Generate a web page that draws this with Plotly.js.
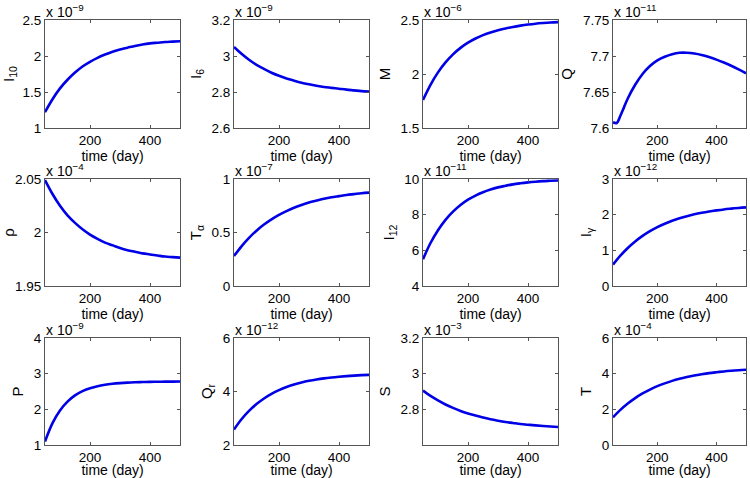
<!DOCTYPE html>
<html>
<head>
<meta charset="utf-8">
<script src="https://cdn.plot.ly/plotly-3.0.1.min.js"></script>
<style>html,body{margin:0;padding:0;background:#fff;}#chart{width:750px;height:478px;}</style>
</head>
<body>
<div id="chart"></div>
<script>
// time axis (days)
const days = [50, 75, 100, 125, 150, 175, 200, 225, 250, 275, 300, 325, 350, 375, 400, 425, 450, 475, 500];
const qDays = [50, 62.5, 75, 87.5, 100, 125, 150, 175, 200, 225, 250, 275, 300, 325, 350, 375, 400, 425, 450, 475, 500];

// series values (scaled by the exponent shown above each panel)
const I10   = [1.22, 1.40, 1.55, 1.67, 1.77, 1.855, 1.92, 1.975, 2.02, 2.06, 2.09, 2.115, 2.14, 2.16, 2.175, 2.185, 2.195, 2.20, 2.205];
const I6    = [3.05, 3.012, 2.979, 2.951, 2.928, 2.907, 2.89, 2.875, 2.863, 2.852, 2.843, 2.835, 2.828, 2.823, 2.818, 2.813, 2.809, 2.805, 2.802];
const M     = [1.76, 1.90, 2.015, 2.107, 2.182, 2.242, 2.29, 2.329, 2.36, 2.385, 2.405, 2.422, 2.436, 2.448, 2.458, 2.466, 2.472, 2.477, 2.48];
const Q     = [7.608, 7.607, 7.617, 7.629, 7.641, 7.660, 7.675, 7.686, 7.694, 7.699, 7.7025, 7.7045, 7.7045, 7.7035, 7.7015, 7.6985, 7.695, 7.691, 7.6865, 7.6815, 7.676];
const rho   = [2.049, 2.036, 2.025, 2.016, 2.009, 2.003, 1.998, 1.994, 1.9905, 1.988, 1.9855, 1.9835, 1.982, 1.9805, 1.9795, 1.9785, 1.9775, 1.977, 1.9765];
const Talpha= [0.28, 0.371, 0.45, 0.517, 0.574, 0.623, 0.665, 0.70, 0.731, 0.757, 0.78, 0.798, 0.815, 0.829, 0.84, 0.851, 0.859, 0.867, 0.873];
const I12   = [5.5, 6.41, 7.13, 7.71, 8.17, 8.54, 8.84, 9.07, 9.26, 9.41, 9.53, 9.62, 9.70, 9.76, 9.81, 9.85, 9.88, 9.90, 9.92];
const Igamma= [0.6, 0.851, 1.066, 1.249, 1.404, 1.537, 1.65, 1.746, 1.829, 1.899, 1.958, 2.009, 2.052, 2.089, 2.12, 2.147, 2.169, 2.189, 2.205];
const P     = [1.1, 1.614, 1.97, 2.217, 2.39, 2.51, 2.59, 2.65, 2.69, 2.717, 2.736, 2.75, 2.759, 2.765, 2.77, 2.773, 2.776, 2.778, 2.78];
const Qr    = [2.58, 2.962, 3.275, 3.529, 3.739, 3.909, 4.05, 4.165, 4.258, 4.335, 4.398, 4.449, 4.491, 4.525, 4.553, 4.576, 4.595, 4.611, 4.623];
const S     = [2.905, 2.875, 2.85, 2.827, 2.808, 2.791, 2.777, 2.765, 2.754, 2.744, 2.736, 2.729, 2.7235, 2.718, 2.714, 2.71, 2.7065, 2.7036, 2.701];
const T     = [1.55, 1.969, 2.325, 2.63, 2.889, 3.109, 3.30, 3.457, 3.596, 3.712, 3.811, 3.896, 3.967, 4.029, 4.08, 4.125, 4.163, 4.195, 4.22];

// panel labels, exponents and ticks
const yLabels = ['I<sub>10</sub>', 'I<sub>6</sub>', 'M', 'Q', 'ρ', 'T<sub>α</sub>', 'I<sub>12</sub>', 'I<sub>γ</sub>', 'P', 'Q<sub>r</sub>', 'S', 'T'];
const exponents = ['−9', '−9', '−6', '−11', '−4', '−7', '−11', '−12', '−9', '−12', '−3', '−4'];
const yRanges = [[1, 2.5], [2.6, 3.2], [1.5, 2.5], [7.6, 7.75], [1.95, 2.05], [0, 1], [4, 10], [0, 3], [1, 4], [2, 6], [2.6, 3.2], [0, 6]];
const yTickVals = [[1, 1.5, 2, 2.5], [2.6, 2.8, 3, 3.2], [1.5, 2, 2.5], [7.6, 7.65, 7.7, 7.75], [1.95, 2, 2.05], [0, 0.5, 1], [4, 6, 8, 10], [0, 1, 2, 3], [1, 2, 3, 4], [2, 4, 6], [2.8, 3, 3.2], [0, 2, 4, 6]];
const yTickText = [['1', '1.5', '2', '2.5'], ['2.6', '2.8', '3', '3.2'], ['1.5', '2', '2.5'], ['7.6', '7.65', '7.7', '7.75'], ['1.95', '2', '2.05'], ['0', '0.5', '1'], ['4', '6', '8', '10'], ['0', '1', '2', '3'], ['1', '2', '3', '4'], ['2', '4', '6'], ['2.8', '3', '3.2'], ['0', '2', '4', '6']];
const xTickVals = [200, 400];
const xTickText = ['200', '400'];
const xTitle = 'time (day)';

const seriesList = [I10, I6, M, Q, rho, Talpha, I12, Igamma, P, Qr, S, T];

// geometry in pixels
const W = 750, H = 478;
const colPx = [[45, 180], [234, 369], [423, 558], [613, 746]];
const rowPx = [[20, 128], [179, 286], [338, 445]];

const font = {family: 'Liberation Sans, Arial, Helvetica, sans-serif', size: 14, color: '#000'};
const traces = [];
const layout = {
  width: W, height: H,
  margin: {l: 0, r: 0, t: 0, b: 0},
  paper_bgcolor: '#fff', plot_bgcolor: '#fff',
  showlegend: false,
  font: font,
  annotations: []
};

for (let i = 0; i < 12; i++) {
  const r = Math.floor(i / 4), c = i % 4;
  const sfx = i === 0 ? '' : String(i + 1);
  const xs = i === 3 ? qDays : days;
  traces.push({
    x: xs, y: seriesList[i], type: 'scatter', mode: 'lines',
    line: {color: '#0000e6', width: 2.6, shape: 'spline', smoothing: 1},
    xaxis: 'x' + sfx, yaxis: 'y' + sfx, hoverinfo: 'skip'
  });
  const xd = [colPx[c][0] / W, colPx[c][1] / W];
  const yd = [1 - rowPx[r][1] / H, 1 - rowPx[r][0] / H];
  const common = {
    showline: true, mirror: 'allticks', linecolor: '#555', linewidth: 1,
    ticks: 'inside', ticklen: 3, tickcolor: '#555', tickwidth: 1,
    showgrid: false, zeroline: false, tickfont: {size: 13.5, color: '#000'},
    fixedrange: true, automargin: false
  };
  layout['xaxis' + sfx] = Object.assign({}, common, {
    domain: xd, range: [50, 500], anchor: 'y' + sfx,
    tickmode: 'array', tickvals: xTickVals, ticktext: xTickText,
    title: {text: xTitle, font: {size: 14, color: '#000'}, standoff: 0.5}
  });
  layout['yaxis' + sfx] = Object.assign({}, common, {
    domain: yd, range: yRanges[i], anchor: 'x' + sfx,
    tickmode: 'array', tickvals: yTickVals[i], ticktext: yTickText[i],
    title: {text: yLabels[i], font: {size: 15, color: '#000'}, standoff: 6}
  });
  layout.annotations.push({
    xref: 'paper', yref: 'paper', x: xd[0], y: yd[1],
    xanchor: 'left', yanchor: 'bottom', showarrow: false,
    text: 'x 10<sup>' + exponents[i] + '</sup>',
    font: {size: 14, color: '#000'}, xshift: -1, yshift: -2
  });
}

Plotly.newPlot('chart', traces, layout, {staticPlot: true, displayModeBar: false});
</script>
</body>
</html>
